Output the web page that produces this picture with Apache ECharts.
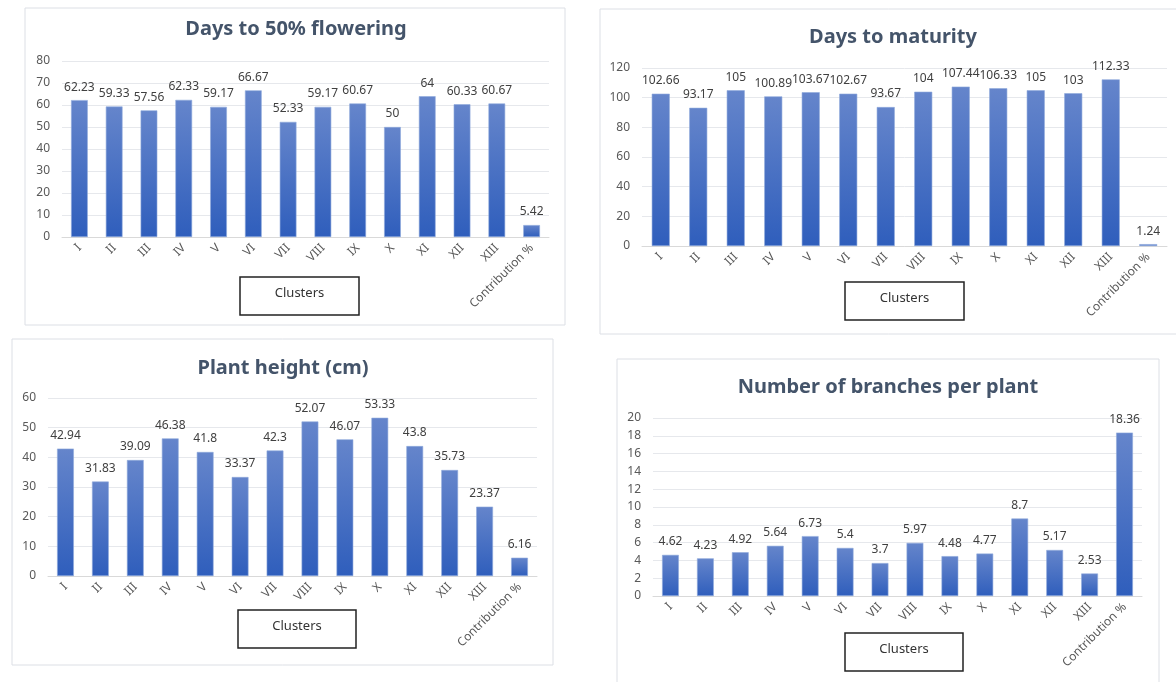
<!DOCTYPE html>
<html>
<head>
<meta charset="utf-8">
<script src="https://cdn.jsdelivr.net/npm/echarts@6/dist/echarts.min.js"></script>
<style>
  html, body { margin: 0; padding: 0; background: #fff; }
  #main { width: 1176px; height: 682px; }
</style>
</head>
<body>
<div id="main"></div>
<script>
// categories shared by all four panels
var clusters = ['I', 'II', 'III', 'IV', 'V', 'VI', 'VII', 'VIII', 'IX', 'X', 'XI', 'XII', 'XIII', 'Contribution %'];

var titles = ['Days to 50% flowering', 'Days to maturity', 'Plant height (cm)', 'Number of branches per plant'];

var flowering = [62.23, 59.33, 57.56, 62.33, 59.17, 66.67, 52.33, 59.17, 60.67, 50, 64, 60.33, 60.67, 5.42];
var maturity = [102.66, 93.17, 105, 100.89, 103.67, 102.67, 93.67, 104, 107.44, 106.33, 105, 103, 112.33, 1.24];
var plantHeight = [42.94, 31.83, 39.09, 46.38, 41.8, 33.37, 42.3, 52.07, 46.07, 53.33, 43.8, 35.73, 23.37, 6.16];
var branches = [4.62, 4.23, 4.92, 5.64, 6.73, 5.4, 3.7, 5.97, 4.48, 4.77, 8.7, 5.17, 2.53, 18.36];

var yMax = [80, 120, 60, 20];
var yStep = [10, 20, 10, 2];

// layout of each panel (pixels)
var panels = [
  { box: [25, 8, 540, 317], grid: [62, 61, 487, 176], title: [296, 29], tag: [240, 277, 119, 38] },
  { box: [600, 9, 590, 325], grid: [642, 68, 525, 178], title: [893, 37], tag: [845, 282, 119, 38] },
  { box: [12, 339, 541, 326], grid: [48, 398, 489, 178], title: [283, 368], tag: [238, 610, 118, 38] },
  { box: [617, 359, 542, 340], grid: [653, 418, 489, 178], title: [888, 387], tag: [845, 633, 118, 38] }
];
var seriesData = [flowering, maturity, plantHeight, branches];

var barColor = new echarts.graphic.LinearGradient(0, 0, 0, 1, [
  { offset: 0, color: '#6585CB' },
  { offset: 1, color: '#2F5EBC' }
]);

var grids = [], xAxes = [], yAxes = [], series = [], graphics = [];

panels.forEach(function (p, i) {
  graphics.push({
    type: 'rect', z: -1,
    shape: { x: p.box[0], y: p.box[1], width: p.box[2], height: p.box[3] },
    style: { fill: '#fff', stroke: '#DCDFE5', lineWidth: 1 }
  });
  graphics.push({
    type: 'text',
    x: p.title[0], y: p.title[1],
    style: {
      text: titles[i], fill: '#44546A',
      font: 'bold 20px "Noto Sans"',
      textAlign: 'center', textVerticalAlign: 'middle'
    }
  });
  graphics.push({
    type: 'rect', z: 10,
    shape: { x: p.tag[0], y: p.tag[1], width: p.tag[2], height: p.tag[3] },
    style: { fill: '#fff', stroke: '#222', lineWidth: 1.5 }
  });
  graphics.push({
    type: 'text', z: 11,
    x: p.tag[0] + p.tag[2] / 2, y: p.tag[1] + 16,
    style: {
      text: 'Clusters', fill: '#333',
      font: '13px "Noto Sans"',
      textAlign: 'center', textVerticalAlign: 'middle'
    }
  });

  grids.push({ left: p.grid[0], top: p.grid[1], width: p.grid[2], height: p.grid[3] });

  xAxes.push({
    type: 'category', gridIndex: i, data: clusters,
    axisLine: { lineStyle: { color: '#D9D9D9' } },
    axisTick: { show: false },
    axisLabel: { rotate: 45, interval: 0, margin: 9, color: '#595959', fontSize: 12, fontFamily: 'Noto Sans' }
  });

  yAxes.push({
    type: 'value', gridIndex: i, min: 0, max: yMax[i], interval: yStep[i],
    axisLine: { show: false },
    axisTick: { show: false },
    splitLine: { lineStyle: { color: '#E6E8EC' } },
    axisLabel: { color: '#595959', fontSize: 12, fontFamily: 'Noto Sans', margin: 12 }
  });

  series.push({
    type: 'bar', xAxisIndex: i, yAxisIndex: i,
    data: seriesData[i],
    barWidth: '48%',
    itemStyle: { color: barColor, borderColor: '#8FA9DC', borderWidth: 0.6 },
    label: {
      show: true, position: 'top', distance: 7,
      color: '#404040', fontSize: 12, fontFamily: 'Noto Sans'
    }
  });
});

var myChart = echarts.init(document.getElementById('main'));
myChart.setOption({
  backgroundColor: '#fff',
  animation: false,
  grid: grids,
  xAxis: xAxes,
  yAxis: yAxes,
  series: series,
  graphic: graphics
});
</script>
</body>
</html>
